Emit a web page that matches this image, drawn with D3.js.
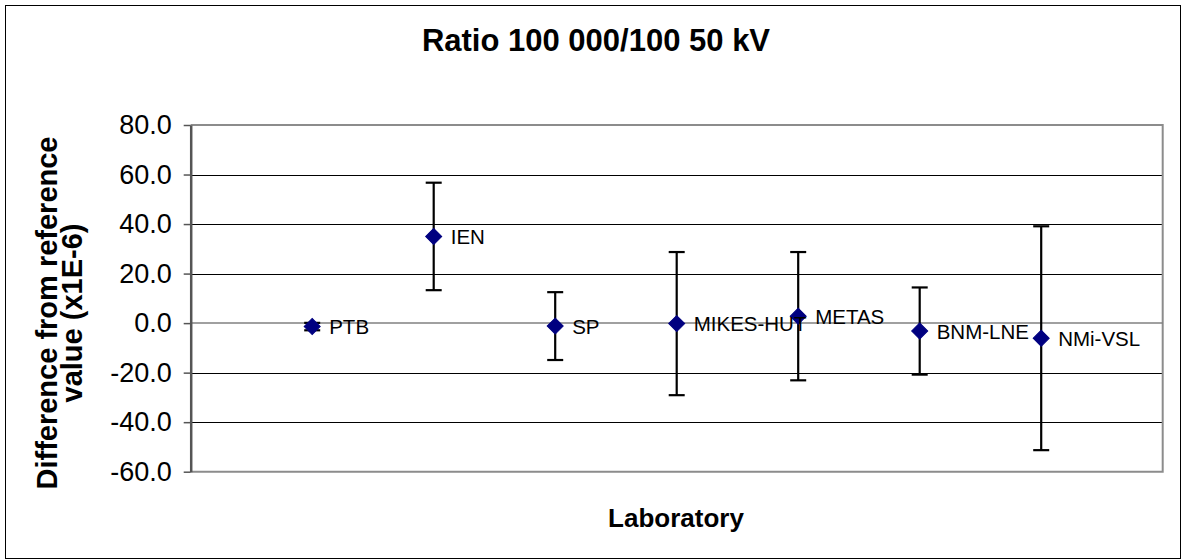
<!DOCTYPE html>
<html>
<head>
<meta charset="utf-8">
<script src="https://cdn.jsdelivr.net/npm/d3@7"></script>
<style>
  html, body { margin: 0; padding: 0; background: #fff; }
  svg { display: block; font-family: "Liberation Sans", Arial, sans-serif; }
</style>
</head>
<body>
<svg id="chart" width="1182" height="560"></svg>
<script>
// ---- data ----
const labs = ["PTB", "IEN", "SP", "MIKES-HUT", "METAS", "BNM-LNE", "NMi-VSL"];
const positions = [1, 2, 3, 4, 5, 6, 7];
const values = [-1.4, 35.0, -1.2, -0.2, 2.8, -3.2, -6.1];
const uncertainties = [1.5, 21.7, 13.7, 28.9, 25.9, 17.6, 45.2];
const yTicks = [-60, -40, -20, 0, 20, 40, 60, 80];
const titleText = "Ratio 100 000/100 50 kV";
const xTitle = "Laboratory";
const yTitleLines = ["Difference from reference", "value (x1E-6)"];

// ---- layout ----
const plot = { left: 190.7, right: 1162.7, top: 125, bottom: 471.7 };

const svg = d3.select("#chart");

// outer chart border
svg.append("rect")
  .attr("x", 5.5).attr("y", 5.5)
  .attr("width", 1175).attr("height", 553)
  .attr("fill", "#fff").attr("stroke", "#000").attr("stroke-width", 1);

const x = d3.scaleLinear().domain([0, 8]).range([plot.left, plot.right]);
const y = d3.scaleLinear().domain([-60, 80]).range([plot.bottom, plot.top]);

// gridlines
svg.append("g")
  .selectAll("line")
  .data(yTicks.filter(t => t !== 0 && t !== 80 && t !== -60))
  .join("line")
  .attr("x1", plot.left).attr("x2", plot.right)
  .attr("y1", d => Math.round(y(d)) + 0.5).attr("y2", d => Math.round(y(d)) + 0.5)
  .attr("stroke", "#000").attr("stroke-width", 1);

// plot border (top, right, bottom) gray
svg.append("path")
  .attr("d", `M${plot.left},${plot.top}H${plot.right}V${plot.bottom}H${plot.left}`)
  .attr("fill", "none").attr("stroke", "#8c8c8c").attr("stroke-width", 2);

// horizontal axis line at 0
svg.append("line")
  .attr("x1", plot.left).attr("x2", plot.right)
  .attr("y1", y(0)).attr("y2", y(0))
  .attr("stroke", "#808080").attr("stroke-width", 1.5);

// y axis
const yAxis = d3.axisLeft(y)
  .tickValues(yTicks)
  .tickFormat(d3.format(".1f"))
  .tickSizeInner(7).tickSizeOuter(0).tickPadding(12);
const gy = svg.append("g")
  .attr("transform", `translate(${plot.left},0)`)
  .call(yAxis);
gy.select(".domain").attr("stroke", "#555").attr("stroke-width", 2.5);
gy.selectAll(".tick line").attr("stroke", "#555").attr("stroke-width", 1.5);
gy.selectAll(".tick text")
  .attr("fill", "#000")
  .style("font-size", "27px")
  .style("font-family", "'Liberation Sans', Arial, sans-serif")
  .text(d => d3.format(".1f")(d).replace("−", "-"));

// error bars
const eb = svg.append("g");
const capHalf = 8;
eb.selectAll("line.stem")
  .data(labs)
  .join("line").attr("class", "stem")
  .attr("x1", (d, i) => x(positions[i])).attr("x2", (d, i) => x(positions[i]))
  .attr("y1", (d, i) => y(values[i] + uncertainties[i]))
  .attr("y2", (d, i) => y(values[i] - uncertainties[i]))
  .attr("stroke", "#000").attr("stroke-width", 2.2);
eb.selectAll("line.capTop")
  .data(labs)
  .join("line").attr("class", "capTop")
  .attr("x1", (d, i) => x(positions[i]) - capHalf).attr("x2", (d, i) => x(positions[i]) + capHalf)
  .attr("y1", (d, i) => y(values[i] + uncertainties[i]))
  .attr("y2", (d, i) => y(values[i] + uncertainties[i]))
  .attr("stroke", "#000").attr("stroke-width", 2.2);
eb.selectAll("line.capBot")
  .data(labs)
  .join("line").attr("class", "capBot")
  .attr("x1", (d, i) => x(positions[i]) - capHalf).attr("x2", (d, i) => x(positions[i]) + capHalf)
  .attr("y1", (d, i) => y(values[i] - uncertainties[i]))
  .attr("y2", (d, i) => y(values[i] - uncertainties[i]))
  .attr("stroke", "#000").attr("stroke-width", 2.2);

// markers (diamonds)
svg.append("g")
  .selectAll("path")
  .data(labs)
  .join("path")
  .attr("d", d3.symbol().type(d3.symbolSquare).size(128))
  .attr("transform", (d, i) => `translate(${x(positions[i])},${y(values[i])}) rotate(45)`)
  .attr("fill", "#000080").attr("stroke", "#000080").attr("stroke-width", 1);

// data labels
svg.append("g")
  .selectAll("text")
  .data(labs)
  .join("text")
  .attr("x", (d, i) => x(positions[i]) + 17)
  .attr("y", (d, i) => y(values[i]) + 7.5)
  .style("font-size", "20.5px")
  .attr("fill", "#000")
  .text(d => d);

// title
svg.append("text")
  .attr("x", 596).attr("y", 51)
  .attr("text-anchor", "middle")
  .style("font-size", "31px").style("font-weight", "bold")
  .text(titleText);

// x title
svg.append("text")
  .attr("x", 676).attr("y", 527)
  .attr("text-anchor", "middle")
  .style("font-size", "26px").style("font-weight", "bold")
  .text(xTitle);

// y title
const yt = svg.append("text")
  .attr("transform", `translate(0,${313}) rotate(-90)`)
  .attr("text-anchor", "middle")
  .style("font-size", "29px").style("font-weight", "bold");
yt.selectAll("tspan")
  .data(yTitleLines)
  .join("tspan")
  .attr("x", 0)
  .attr("y", (d, i) => 57 + i * 25)
  .text(d => d);
</script>
</body>
</html>
